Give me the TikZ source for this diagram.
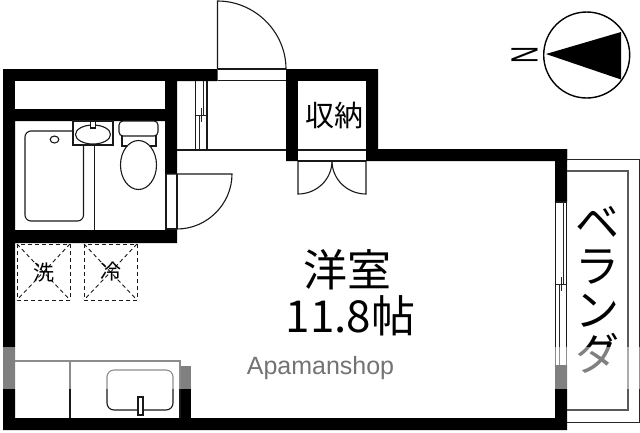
\documentclass[tikz,border=0pt]{standalone}
\usepackage{fontspec}
\setmainfont{Liberation Sans}
\newfontfamily\cjk{Noto Sans CJK JP}
\tikzset{
	wall/.style={fill=black},
	planline/.style={draw=black!90,line width=1.1pt},
	thinline/.style={draw=black!85,line width=0.7pt},
	spacemark/.style={draw=black!90,line width=0.9pt,dash pattern=on 4pt off 3pt},
	roomlabel/.style={inner sep=0pt,font=\cjk\fontsize{44}{44}\selectfont},
	smalllabel/.style={inner sep=0pt,font=\cjk\fontsize{21}{21}\selectfont}
}
\begin{document}
\begin{tikzpicture}[x=1pt,y=-1pt]
		\useasboundingbox (0,0) rectangle (640,432);
		% walls
		\fill[wall] (3,69)--(217.5,69)--(217.5,81)--(177,81)--(177,174)--(165,174)--(165,121)--(15,121)--(15,230)--(177,230)--(177,243)--(15,243)--(15,418)--(555,418)--(555,149)--(567,149)--(567,202)--(555,202)--(555,365)--(567,365)--(567,430)--(3,430)--cycle;
		\fill[white] (15,81)--(165,81)--(165,109)--(15,109)--cycle;
		\fill[wall] (286,69)--(378,69)--(378,149)--(567,149)--(567,161)--(286,161)--cycle;
		\fill[white] (298,81)--(366,81)--(366,149)--(298,149)--cycle;
		\fill[white] (298,150)--(366,150)--(366,161)--(298,161)--cycle;
		\fill[wall] (179,366)--(191,366)--(191,420)--(179,420)--cycle;
		% entrance door
		\draw[planline] (217.5,69)--(217.5,1) .. controls (255,1) and (286,32) .. (286,69);
		\draw[planline] (217.5,69)--(286,69) (217.5,80.5)--(286,80.5);
		\draw[planline] (177,150)--(286,150);
		% sliding door in the hall
		\draw[planline] (195.5,81)--(195.5,150) (207,81)--(207,150);
		\draw[thinline] (203,81)--(203,116) (199,116)--(199,150);
		\draw[thinline] (196,115.5)--(206,115.5) (201,108)--(201,122);
		% bathroom door
		\draw[planline] (166,174)--(232,174) .. controls (232,204) and (207,229) .. (177,229);
		\draw[planline] (166,174)--(166,229)--(177,229) (177,174)--(177,229);
		% bath
		\draw[planline,rounded corners=6pt] (25,131) rectangle (83.5,221);
		\draw[planline] (94.5,145)--(94.5,230);
		\draw[planline] (54.5,139.5) ellipse (4.3 and 3.5);
		\filldraw[planline,fill=white] (73,121) rectangle (113,145);
		\filldraw[planline,fill=white] (93,134.5) ellipse (17.5 and 9.5);
		\filldraw[planline,fill=white] (90.5,121) rectangle (95.5,128);
		% toilet
		\filldraw[planline,fill=white] (122,134) rectangle (156,146);
		\filldraw[planline,fill=white,rounded corners=4pt] (119,121) rectangle (158,136);
		\filldraw[planline,fill=white] (138.5,165) ellipse (18 and 24.5);
		% closet
		\draw[planline] (298,150)--(366,150);
		\draw[planline] (298,161)--(366,161);
		\draw[planline] (298,161)--(298,194) .. controls (317,194) and (332,179) .. (332,161);
		\draw[planline] (366,161)--(366,194) .. controls (347,194) and (332,179) .. (332,161);
		\node[inner sep=0pt,font=\cjk\fontsize{29}{29}\selectfont] (closet) at (334,115) {収納};
		% washer and fridge spaces
		\draw[spacemark] (17,244) rectangle (70,300);
		\draw[spacemark] (17,244)--(70,300) (70,244)--(17,300);
		\draw[spacemark] (84,244) rectangle (137,300);
		\draw[spacemark] (84,244)--(137,300) (137,244)--(84,300);
		\node[smalllabel] (washer) at (44,273) {洗};
		\node[smalllabel] (fridge) at (111,272) {冷};
		% kitchen
		\draw[planline] (15,361)--(180,361)--(180,418);
		\draw[planline] (70,361)--(70,418);
		\draw[planline,rounded corners=7pt] (107,370) rectangle (173,410);
		\filldraw[planline,fill=white] (138,397) rectangle (143,415);
		% window
		\draw[planline] (555.5,202)--(566.5,202);
		\draw[planline] (555.5,202)--(555.5,365) (566.5,202)--(566.5,365);
		\draw[thinline] (563,202)--(563,284) (559.5,284)--(559.5,365);
		\draw[thinline] (556,284)--(566,284) (561,277)--(561,291);
		% balcony
		\draw[thinline] (567,159)--(639,159)--(639,422)--(567,422);
		\draw[draw=black!65,line width=1.3pt] (567,171)--(628,171)--(628,410)--(567,410);
		\node[roomlabel,align=center] (balcony) at (597,290) {ベ\\ラ\\ン\\ダ};
		% room label
		\node[roomlabel] (room) at (347,270) {洋室};
		\node[roomlabel] (area) at (350.5,316) {11.8帖};
		% north mark
		\draw[line width=1.4pt] (586.7,55) circle (43);
		\fill (546,54)--(621,32)--(621,79.5)--cycle;
		\node[inner sep=0pt,rotate=90,font=\fontsize{38}{38}\selectfont] (north) at (524.5,55) {\scalebox{0.62}[1]{N}};
		% faded band
		\fill[white,opacity=0.5] (0,347) rectangle (640,389);
		\node[inner sep=0pt,text=black!55,font=\fontsize{25}{25}\selectfont] (shop) at (320.5,368) {Apamanshop};
\end{tikzpicture}
\end{document}
